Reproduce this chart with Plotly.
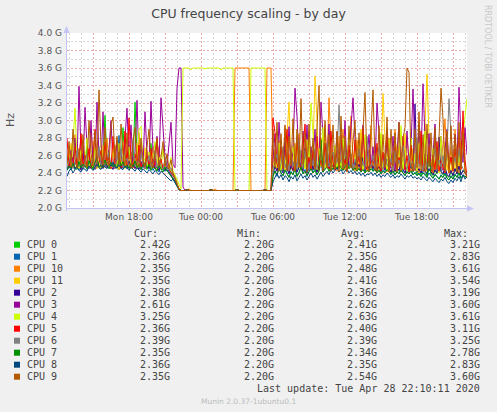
import pandas as pd
import plotly.graph_objs as go

# three time segments, 10 minute steps
LEFT_START = "2020-04-27 12:50"
FLAT_START = "2020-04-27 22:20"
RIGHT_START = "2020-04-28 06:00"

CPU_NAMES = ["CPU 0", "CPU 1", "CPU 10", "CPU 11", "CPU 2", "CPU 3",
             "CPU 4", "CPU 5", "CPU 6", "CPU 7", "CPU 8", "CPU 9"]
CPU_COLORS = ["#00CC00", "#0066B3", "#FF8000", "#FFCC00", "#330099", "#990099",
              "#CCFF00", "#FF0000", "#808080", "#008F00", "#00487D", "#B35A00"]

# legend statistics (GHz)
CUR = [2.42, 2.36, 2.35, 2.35, 2.38, 2.61, 3.25, 2.36, 2.39, 2.35, 2.36, 2.35]
MIN = [2.20, 2.20, 2.20, 2.20, 2.20, 2.20, 2.20, 2.20, 2.20, 2.20, 2.20, 2.20]
AVG = [2.41, 2.35, 2.48, 2.41, 2.36, 2.62, 2.63, 2.40, 2.39, 2.34, 2.35, 2.54]
MAX = [3.21, 2.83, 3.61, 3.54, 3.19, 3.60, 3.61, 3.11, 3.25, 2.78, 2.83, 3.60]

X_TICKS = ["2020-04-27 15:00", "2020-04-27 18:00", "2020-04-27 21:00", "2020-04-28 00:00",
           "2020-04-28 03:00", "2020-04-28 06:00", "2020-04-28 09:00", "2020-04-28 12:00",
           "2020-04-28 15:00", "2020-04-28 18:00", "2020-04-28 21:00"]
X_TICK_TEXT = ["", "Mon 18:00", "", "Tue 00:00", "", "Tue 06:00", "", "Tue 12:00", "", "Tue 18:00", ""]

# night segment (all idle at 2.2 GHz except the boosted cores)
flat_quiet = [2.20, 2.20, 2.20, 2.21, 2.20, 2.20, 2.20, 2.20, 2.20, 2.20,
              2.20, 2.20, 2.20, 2.20, 2.20, 2.21, 2.20, 2.20, 2.20, 2.20,
              2.20, 2.20, 2.20, 2.20, 2.20, 2.20, 2.20, 2.20, 2.21, 2.20,
              2.20, 2.20, 2.20, 2.20, 2.20, 2.20, 2.20, 2.20, 2.20, 2.20,
              2.20, 2.20, 2.21, 2.20, 2.20, 2.20]
flat_cpu3 = [3.60, 2.24, 2.20, 2.20, 2.20, 2.20, 2.20, 2.20, 2.20, 2.20,
             2.20, 2.20, 2.20, 2.20, 2.20, 2.20, 2.20, 2.20, 2.20, 2.20,
             2.20, 2.20, 2.20, 2.20, 2.20, 2.20, 2.20, 2.20, 2.20, 2.20,
             2.20, 2.20, 2.20, 2.20, 2.20, 2.20, 2.20, 2.20, 2.20, 2.20,
             2.20, 2.20, 2.20, 2.20, 2.20, 2.20]
flat_cpu4 = [2.22, 3.60, 3.60, 3.60, 3.60, 3.58, 3.60, 3.60, 3.60, 3.60,
             3.60, 3.60, 3.59, 3.60, 3.60, 3.60, 3.60, 3.60, 3.60, 3.60,
             3.58, 3.60, 3.60, 3.60, 3.60, 3.60, 3.60, 2.20, 2.20, 2.20,
             2.20, 2.20, 2.20, 2.20, 2.20, 3.60, 3.60, 3.60, 3.60, 3.60,
             3.60, 3.60, 3.60, 2.20, 2.20, 2.20]
flat_cpu10 = [2.20, 2.20, 2.20, 2.20, 2.22, 2.20, 2.20, 2.20, 2.20, 2.20,
              2.20, 2.20, 2.20, 2.20, 2.20, 2.20, 2.20, 2.22, 2.20, 2.20,
              2.20, 2.20, 2.20, 2.20, 2.20, 2.20, 2.20, 3.60, 3.60, 3.60,
              3.60, 3.60, 3.60, 3.60, 3.60, 2.20, 2.20, 2.20, 2.20, 2.20,
              2.20, 2.20, 2.20, 3.60, 3.60, 3.60]

# Monday afternoon / evening
cpu0_left = [2.45, 2.50, 2.46, 2.58, 2.44, 2.49, 2.47, 2.52, 2.45, 2.48,
             2.70, 2.47, 2.50, 2.44, 2.49, 2.46, 2.52, 2.45, 2.60, 3.06,
             2.55, 2.47, 2.45, 2.50, 2.46, 2.48, 2.44, 2.51, 2.92, 2.49,
             2.46, 2.52, 2.45, 2.48, 3.21, 2.62, 2.47, 2.45, 2.50, 2.46,
             2.44, 2.49, 2.74, 2.47, 2.45, 2.43, 2.48, 2.46, 2.44, 2.47,
             2.42, 2.45, 2.40, 2.37, 2.33, 2.27, 2.21]
cpu1_left = [2.43, 2.47, 2.44, 2.50, 2.45, 2.48, 2.43, 2.55, 2.46, 2.49,
             2.44, 2.52, 2.46, 2.49, 2.45, 2.50, 2.47, 2.45, 2.58, 2.48,
             2.50, 2.45, 2.53, 2.47, 2.49, 2.46, 2.83, 2.52, 2.45, 2.48,
             2.47, 2.51, 2.45, 2.48, 2.55, 2.46, 2.49, 2.44, 2.52, 2.46,
             2.48, 2.45, 2.50, 2.43, 2.47, 2.45, 2.41, 2.48, 2.44, 2.42,
             2.44, 2.39, 2.36, 2.34, 2.30, 2.25, 2.21]
cpu10_left = [2.48, 2.70, 2.46, 2.52, 2.84, 2.50, 2.47, 2.45, 2.76, 2.49,
              2.46, 2.52, 2.88, 2.50, 2.47, 2.45, 2.68, 2.48, 2.46, 2.51,
              2.80, 2.49, 2.46, 2.45, 2.72, 2.50, 2.44, 2.48, 2.47, 2.78,
              2.52, 2.46, 2.64, 2.48, 2.45, 2.50, 2.86, 2.47, 2.49, 2.45,
              2.66, 2.48, 2.46, 2.70, 2.50, 2.45, 2.62, 2.44, 2.48, 2.52,
              2.47, 2.50, 2.44, 2.41, 2.36, 2.29, 2.22]
cpu11_left = [2.47, 2.52, 2.74, 2.46, 2.49, 2.66, 2.45, 2.82, 2.48, 2.50,
              2.45, 2.68, 2.47, 2.77, 2.46, 2.50, 2.62, 2.45, 2.72, 2.49,
              2.55, 2.46, 2.48, 2.71, 2.47, 2.60, 2.45, 2.50, 2.75, 2.46,
              2.49, 2.64, 2.45, 2.52, 2.47, 2.74, 2.46, 2.50, 2.48, 2.69,
              2.46, 2.52, 2.44, 2.62, 2.47, 2.45, 2.70, 2.48, 2.46, 2.51,
              2.45, 2.50, 2.43, 2.40, 2.35, 2.28, 2.21]
cpu2_left = [2.44, 2.50, 2.46, 2.58, 2.45, 2.48, 2.54, 2.43, 2.62, 2.47,
             2.49, 2.45, 2.56, 2.47, 2.44, 2.52, 2.46, 2.60, 2.45, 2.50,
             2.46, 2.57, 2.48, 2.44, 2.51, 2.46, 2.55, 2.45, 2.50, 2.47,
             2.45, 2.54, 2.47, 2.58, 2.45, 2.49, 2.44, 2.53, 2.47, 2.46,
             2.51, 2.45, 2.48, 2.56, 2.45, 2.47, 2.43, 2.52, 2.46, 2.43,
             2.47, 2.42, 2.38, 2.35, 2.31, 2.26, 2.21]
cpu3_left = [2.58, 2.46, 2.66, 2.48, 2.80, 2.50, 3.39, 2.62, 2.47, 3.15,
             2.70, 2.48, 3.00, 2.52, 2.46, 3.21, 2.58, 2.47, 3.10, 2.55,
             2.47, 2.68, 3.00, 2.50, 2.45, 2.78, 2.49, 2.62, 2.46, 2.85,
             3.14, 2.56, 2.95, 2.48, 2.64, 3.23, 2.52, 2.72, 2.47, 3.10,
             2.60, 2.49, 3.22, 2.66, 2.47, 2.82, 2.50, 3.26, 2.90, 2.58,
             2.48, 2.74, 2.98, 2.50, 2.46, 3.37, 3.60]
cpu4_left = [2.47, 2.60, 2.48, 2.75, 3.14, 2.55, 2.46, 2.66, 2.45, 2.50,
             2.80, 2.48, 2.58, 2.46, 2.70, 2.50, 2.45, 2.64, 2.48, 2.78,
             2.49, 2.56, 2.45, 2.68, 2.52, 2.46, 2.74, 2.48, 2.60, 2.45,
             2.55, 2.70, 2.47, 2.50, 2.62, 2.46, 2.90, 2.93, 2.50, 2.57,
             2.46, 2.64, 2.48, 2.52, 2.76, 2.47, 2.58, 2.45, 2.68, 2.50,
             2.48, 2.45, 2.58, 2.42, 2.38, 2.32, 2.26]
cpu5_left = [2.80, 2.48, 2.62, 2.46, 2.70, 2.50, 2.55, 2.85, 2.47, 2.60,
             2.49, 2.68, 2.45, 2.56, 2.90, 2.48, 2.52, 2.66, 2.46, 2.76,
             2.50, 2.58, 2.45, 2.82, 2.48, 2.55, 2.64, 2.46, 2.52, 2.88,
             2.48, 3.03, 2.56, 2.46, 2.62, 2.49, 2.72, 2.47, 2.54, 2.45,
             2.60, 2.48, 2.68, 2.46, 2.52, 2.78, 2.47, 2.56, 2.45, 2.50,
             2.48, 2.44, 2.41, 2.38, 2.34, 2.27, 2.22]
cpu6_left = [2.46, 2.52, 2.60, 2.45, 2.50, 2.66, 2.47, 2.55, 2.44, 2.52,
             2.62, 2.46, 2.50, 2.58, 2.45, 2.52, 2.70, 2.47, 2.55, 2.46,
             2.51, 2.64, 2.47, 2.53, 2.45, 2.60, 2.49, 2.68, 2.46, 2.52,
             2.57, 2.45, 2.50, 2.78, 2.48, 2.54, 2.46, 2.62, 2.50, 2.45,
             2.52, 2.60, 2.46, 2.51, 2.66, 2.46, 2.55, 2.48, 2.44, 2.57,
             2.47, 2.43, 2.46, 2.39, 2.35, 2.28, 2.21]
cpu7_left = [2.43, 2.48, 2.45, 2.51, 2.46, 2.44, 2.53, 2.46, 2.50, 2.47,
             2.45, 2.54, 2.48, 2.46, 2.51, 2.58, 2.47, 2.49, 2.46, 2.55,
             2.48, 2.45, 2.52, 2.47, 2.50, 2.45, 2.56, 2.48, 2.53, 2.46,
             2.49, 2.45, 2.51, 2.47, 2.54, 2.46, 2.50, 2.44, 2.48, 2.52,
             2.45, 2.50, 2.43, 2.48, 2.46, 2.42, 2.49, 2.44, 2.41, 2.46,
             2.43, 2.39, 2.36, 2.34, 2.30, 2.25, 2.21]
cpu8_left = [2.36, 2.42, 2.45, 2.40, 2.44, 2.47, 2.43, 2.41, 2.46, 2.44,
             2.42, 2.48, 2.45, 2.43, 2.47, 2.50, 2.46, 2.44, 2.49, 2.47,
             2.45, 2.50, 2.48, 2.52, 2.47, 2.46, 2.49, 2.45, 2.44, 2.48,
             2.46, 2.43, 2.47, 2.45, 2.42, 2.46, 2.44, 2.41, 2.45, 2.43,
             2.40, 2.44, 2.42, 2.39, 2.43, 2.41, 2.38, 2.42, 2.40, 2.37,
             2.36, 2.34, 2.31, 2.33, 2.28, 2.25, 2.21]
cpu9_left = [2.50, 2.76, 2.47, 2.90, 2.55, 2.46, 2.68, 2.49, 2.84, 2.52,
             2.47, 3.00, 2.62, 2.48, 2.88, 2.54, 3.35, 2.70, 2.49, 2.92,
             2.58, 2.48, 2.95, 3.04, 2.56, 2.82, 2.50, 2.96, 2.62, 2.48,
             2.86, 2.52, 2.46, 2.76, 2.92, 2.50, 2.47, 2.80, 2.55, 2.48,
             2.70, 2.90, 2.50, 2.46, 2.64, 2.80, 2.48, 2.58, 2.76, 2.47,
             2.62, 2.45, 2.55, 2.40, 2.34, 2.28, 2.21]

# Tuesday daytime
cpu0_right = [2.42, 2.48, 2.44, 2.56, 2.45, 2.42, 2.50, 2.44, 2.40, 2.47,
              2.43, 2.58, 2.42, 2.46, 2.66, 2.44, 2.49, 2.41, 2.46, 2.62,
              2.44, 2.52, 2.42, 2.48, 2.58, 2.45, 2.50, 2.70, 2.46, 2.54,
              2.48, 2.58, 2.50, 2.64, 2.48, 2.46, 2.53, 2.66, 2.47, 2.55,
              2.46, 2.52, 2.44, 2.50, 2.43, 2.58, 2.42, 2.48, 2.45, 2.55,
              2.44, 2.50, 2.42, 2.47, 2.41, 2.46, 2.43, 2.56, 2.45, 2.40,
              2.47, 2.41, 2.45, 2.42, 2.54, 2.43, 2.40, 2.48, 2.42, 2.50,
              2.41, 2.46, 2.39, 2.44, 2.38, 2.50, 2.42, 2.37, 2.44, 2.40,
              2.37, 2.43, 2.39, 2.68, 2.41, 2.38, 2.46, 2.37, 2.35, 2.42,
              2.36, 2.45, 2.39, 2.60, 2.38, 2.43, 2.40, 2.42]
cpu1_right = [2.38, 2.43, 2.36, 2.48, 2.40, 2.37, 2.45, 2.39, 2.35, 2.42,
              2.38, 2.52, 2.37, 2.41, 2.47, 2.39, 2.44, 2.36, 2.42, 2.55,
              2.40, 2.45, 2.38, 2.43, 2.50, 2.41, 2.46, 2.60, 2.42, 2.48,
              2.44, 2.50, 2.46, 2.53, 2.47, 2.43, 2.49, 2.55, 2.45, 2.50,
              2.43, 2.48, 2.42, 2.46, 2.41, 2.52, 2.40, 2.45, 2.42, 2.49,
              2.42, 2.46, 2.40, 2.44, 2.39, 2.43, 2.41, 2.83, 2.42, 2.38,
              2.43, 2.38, 2.42, 2.39, 2.46, 2.40, 2.37, 2.43, 2.39, 2.44,
              2.38, 2.41, 2.37, 2.40, 2.36, 2.42, 2.39, 2.35, 2.40, 2.37,
              2.34, 2.39, 2.36, 2.33, 2.38, 2.35, 2.41, 2.34, 2.32, 2.37,
              2.33, 2.39, 2.35, 2.42, 2.34, 2.38, 2.36, 2.36]
cpu10_right = [2.44, 2.66, 2.42, 2.78, 2.45, 2.48, 2.92, 2.43, 2.62, 2.46,
               2.42, 2.74, 2.45, 2.85, 2.43, 2.50, 2.68, 2.42, 2.88, 2.47,
               2.44, 2.62, 2.46, 2.42, 2.80, 2.45, 2.95, 2.48, 3.26, 2.70,
               2.45, 2.58, 2.42, 2.82, 2.46, 2.90, 2.43, 2.64, 2.47, 3.05,
               2.52, 2.42, 2.78, 2.45, 2.86, 2.44, 2.66, 2.42, 2.50, 2.94,
               2.46, 2.72, 2.43, 2.55, 2.84, 2.44, 2.62, 2.41, 2.80, 2.48,
               2.42, 2.90, 2.46, 2.70, 2.41, 2.58, 2.44, 2.82, 2.50, 2.42,
               2.68, 2.43, 2.55, 2.40, 2.78, 2.46, 2.96, 2.42, 2.64, 2.47,
               2.41, 2.84, 2.43, 2.60, 2.45, 2.76, 3.02, 2.50, 2.40, 2.70,
               2.42, 2.90, 2.52, 2.40, 2.82, 2.98, 2.46, 2.35]
cpu11_right = [2.44, 2.55, 2.46, 2.72, 2.45, 2.60, 2.43, 2.78, 3.21, 2.50,
               2.62, 2.44, 2.68, 2.46, 2.52, 2.86, 2.45, 2.50, 2.72, 2.44,
               2.64, 3.51, 2.88, 2.47, 2.58, 2.44, 2.76, 2.50, 2.43, 2.66,
               2.52, 2.45, 2.80, 2.47, 2.60, 2.44, 2.70, 2.50, 2.45, 2.58,
               2.46, 2.74, 2.43, 2.55, 2.90, 2.45, 2.52, 2.42, 2.68, 2.47,
               2.58, 2.44, 2.66, 2.43, 2.52, 3.31, 2.78, 2.46, 2.43, 2.62,
               2.50, 2.42, 2.72, 2.46, 2.58, 2.44, 2.85, 2.50, 2.42, 2.66,
               2.46, 2.58, 2.43, 2.70, 2.50, 2.44, 2.94, 3.53, 2.80, 2.46,
               2.60, 2.44, 2.66, 2.41, 2.55, 2.46, 2.76, 2.43, 2.52, 2.40,
               2.62, 2.45, 2.72, 2.42, 2.50, 2.88, 2.44, 2.35]
cpu2_right = [2.40, 2.47, 2.42, 2.55, 2.44, 2.40, 2.74, 2.45, 2.39, 2.49,
              2.43, 2.58, 2.41, 2.46, 2.52, 2.42, 2.68, 2.40, 2.47, 2.60,
              2.44, 2.50, 2.41, 2.47, 2.56, 2.43, 2.49, 2.70, 2.45, 2.52,
              2.47, 2.54, 2.49, 2.60, 2.50, 2.46, 2.53, 2.62, 2.48, 2.55,
              2.46, 2.53, 2.45, 2.50, 2.44, 2.58, 2.43, 2.49, 2.45, 2.54,
              2.45, 2.51, 2.43, 2.48, 2.42, 2.47, 2.44, 2.56, 2.46, 2.41,
              2.47, 2.42, 2.46, 2.43, 2.52, 2.44, 2.40, 2.48, 2.43, 2.49,
              2.42, 3.19, 2.41, 2.45, 2.40, 2.47, 2.43, 2.39, 2.45, 2.41,
              2.38, 2.44, 2.40, 2.81, 2.42, 2.39, 2.47, 2.38, 2.36, 2.43,
              2.37, 2.45, 2.39, 2.48, 2.38, 2.43, 2.40, 2.38]
cpu3_right = [2.55, 2.85, 2.46, 2.98, 2.60, 2.44, 2.80, 2.50, 2.93, 2.47,
              2.66, 3.37, 3.05, 2.52, 2.45, 2.88, 2.48, 2.95, 2.44, 2.70,
              2.50, 2.90, 2.46, 2.58, 3.21, 2.82, 2.45, 2.56, 2.96, 2.44,
              2.62, 2.47, 2.87, 2.45, 2.78, 2.50, 3.00, 2.46, 2.58, 2.92,
              3.26, 2.80, 2.45, 2.66, 2.48, 2.95, 2.44, 2.56, 2.84, 2.47,
              2.70, 2.46, 3.20, 2.86, 2.48, 2.60, 2.44, 2.90, 2.52, 2.45,
              2.82, 2.44, 2.62, 2.98, 2.47, 2.56, 2.43, 2.88, 2.50, 2.68,
              3.36, 2.62, 2.45, 2.92, 2.52, 3.42, 2.78, 2.44, 2.85, 2.48,
              2.60, 2.96, 2.45, 2.55, 2.82, 2.43, 2.66, 2.90, 2.46, 2.58,
              2.44, 2.84, 2.50, 3.38, 2.80, 2.52, 2.92, 2.61]
cpu4_right = [2.44, 2.58, 2.46, 2.74, 2.43, 2.62, 2.47, 2.82, 2.44, 2.56,
              2.70, 2.45, 2.86, 2.48, 2.43, 2.64, 2.46, 2.78, 2.55, 3.20,
              2.84, 2.50, 2.44, 2.68, 2.47, 2.92, 2.45, 2.58, 2.76, 2.43,
              2.55, 2.72, 2.45, 2.62, 2.44, 2.80, 2.50, 2.45, 2.88, 2.52,
              2.45, 2.66, 2.43, 2.74, 2.50, 2.44, 2.84, 2.47, 2.62, 2.45,
              2.55, 2.43, 2.70, 2.47, 2.86, 2.44, 2.58, 2.42, 2.78, 2.50,
              2.44, 2.66, 2.47, 2.56, 2.94, 2.45, 2.68, 2.42, 2.52, 2.80,
              2.45, 2.62, 2.42, 2.74, 2.50, 2.44, 2.88, 2.47, 2.58, 2.43,
              2.68, 2.45, 2.54, 2.40, 2.82, 2.47, 2.42, 2.62, 2.45, 2.56,
              2.42, 2.72, 2.47, 2.64, 2.44, 2.84, 3.05, 3.25]
cpu5_right = [3.03, 2.86, 2.50, 2.44, 2.70, 2.46, 2.56, 2.90, 2.43, 2.62,
              2.47, 2.42, 2.76, 2.52, 2.44, 2.68, 2.96, 2.46, 2.58, 2.43,
              2.66, 2.47, 2.82, 2.44, 2.55, 2.42, 2.74, 2.50, 2.45, 2.88,
              2.52, 2.43, 2.66, 2.47, 2.84, 2.45, 2.56, 2.42, 2.72, 2.50,
              2.44, 2.78, 2.48, 2.60, 2.42, 2.92, 2.50, 2.44, 2.66, 2.46,
              2.56, 2.43, 2.74, 2.48, 2.42, 2.64, 2.50, 2.86, 2.44, 2.54,
              2.46, 2.70, 2.43, 2.58, 2.47, 2.82, 2.44, 2.60, 2.41, 2.72,
              2.48, 2.43, 2.64, 2.50, 2.88, 2.42, 2.56, 2.45, 2.70, 2.41,
              2.60, 2.44, 2.76, 2.42, 2.54, 2.47, 2.40, 2.74, 2.45, 2.58,
              2.42, 2.68, 2.46, 2.84, 2.44, 3.11, 2.55, 2.36]
cpu6_right = [2.45, 2.52, 2.62, 2.44, 2.50, 2.70, 2.46, 2.55, 2.43, 2.64,
              2.47, 2.56, 2.44, 2.78, 2.50, 2.45, 2.66, 2.52, 2.44, 2.60,
              2.48, 2.68, 2.45, 2.54, 2.62, 2.46, 2.52, 2.74, 2.47, 2.56,
              2.64, 2.48, 2.55, 3.18, 2.60, 2.46, 2.70, 2.50, 2.47, 2.62,
              2.45, 2.56, 2.50, 2.68, 2.46, 2.54, 2.44, 2.82, 2.52, 2.47,
              2.60, 2.45, 2.55, 2.70, 2.48, 2.44, 2.62, 2.50, 2.46, 2.57,
              2.43, 2.66, 2.48, 2.55, 2.45, 2.72, 2.50, 2.44, 2.60, 2.47,
              2.54, 2.44, 2.80, 2.47, 2.52, 2.43, 2.62, 2.46, 2.56, 2.44,
              2.50, 2.70, 2.44, 2.55, 2.47, 2.60, 2.42, 2.66, 3.25, 2.84,
              2.48, 2.58, 2.44, 2.68, 2.50, 2.45, 2.42, 2.39]
cpu7_right = [2.36, 2.42, 2.38, 2.45, 2.40, 2.37, 2.43, 2.39, 2.35, 2.41,
              2.38, 2.44, 2.36, 2.40, 2.47, 2.39, 2.42, 2.37, 2.41, 2.45,
              2.40, 2.43, 2.38, 2.42, 2.78, 2.41, 2.44, 2.47, 2.42, 2.46,
              2.44, 2.48, 2.45, 2.50, 2.46, 2.43, 2.47, 2.51, 2.45, 2.48,
              2.43, 2.46, 2.42, 2.45, 2.41, 2.44, 2.40, 2.43, 2.41, 2.45,
              2.42, 2.44, 2.40, 2.43, 2.39, 2.42, 2.40, 2.44, 2.41, 2.39,
              2.42, 2.38, 2.41, 2.39, 2.43, 2.40, 2.37, 2.41, 2.39, 2.42,
              2.38, 2.40, 2.37, 2.39, 2.36, 2.40, 2.38, 2.35, 2.62, 2.37,
              2.34, 2.38, 2.36, 2.33, 2.37, 2.35, 2.39, 2.34, 2.32, 2.36,
              2.33, 2.38, 2.35, 2.40, 2.34, 2.37, 2.36, 2.35]
cpu8_right = [2.30, 2.36, 2.40, 2.34, 2.38, 2.32, 2.37, 2.35, 2.30, 2.36,
              2.33, 2.38, 2.31, 2.35, 2.39, 2.34, 2.37, 2.32, 2.36, 2.40,
              2.35, 2.38, 2.33, 2.37, 2.41, 2.36, 2.39, 2.42, 2.38, 2.44,
              2.40, 2.43, 2.46, 2.41, 2.44, 2.39, 2.42, 2.45, 2.40, 2.43,
              2.39, 2.42, 2.38, 2.41, 2.37, 2.40, 2.36, 2.39, 2.38, 2.41,
              2.37, 2.40, 2.36, 2.39, 2.35, 2.38, 2.36, 2.40, 2.37, 2.35,
              2.38, 2.34, 2.37, 2.35, 2.39, 2.36, 2.33, 2.37, 2.35, 2.38,
              2.34, 2.36, 2.33, 2.35, 2.32, 2.36, 2.34, 2.31, 2.35, 2.33,
              2.30, 2.34, 2.32, 2.29, 2.33, 2.31, 2.35, 2.30, 2.28, 2.32,
              2.29, 2.34, 2.31, 2.36, 2.30, 2.38, 2.33, 2.36]
cpu9_right = [2.90, 2.46, 2.98, 2.42, 2.85, 2.45, 2.95, 2.43, 2.82, 2.48,
              3.02, 2.42, 2.90, 2.46, 3.25, 2.50, 2.86, 2.41, 2.96, 2.47,
              2.80, 2.44, 2.92, 3.40, 2.55, 2.43, 3.00, 2.46, 2.84, 2.42,
              2.95, 2.45, 2.88, 2.42, 3.05, 2.47, 2.82, 2.41, 2.94, 2.46,
              2.76, 3.00, 2.43, 2.86, 2.45, 2.92, 3.32, 2.50, 2.42, 2.88,
              3.35, 2.54, 2.42, 2.94, 2.45, 2.84, 2.46, 3.04, 2.41, 2.90,
              2.48, 2.86, 2.41, 2.98, 2.45, 2.80, 2.92, 3.60, 3.55, 2.52,
              2.42, 2.90, 2.46, 3.10, 2.43, 2.84, 2.41, 2.96, 2.47, 2.86,
              2.40, 2.92, 2.45, 2.80, 3.37, 3.02, 2.42, 2.88, 2.40, 2.94,
              2.44, 2.84, 2.41, 2.98, 2.46, 2.86, 2.40, 2.35]

segments = {
    "CPU 0": (cpu0_left, flat_quiet, cpu0_right),
    "CPU 1": (cpu1_left, flat_quiet, cpu1_right),
    "CPU 10": (cpu10_left, flat_cpu10, cpu10_right),
    "CPU 11": (cpu11_left, flat_quiet, cpu11_right),
    "CPU 2": (cpu2_left, flat_quiet, cpu2_right),
    "CPU 3": (cpu3_left, flat_cpu3, cpu3_right),
    "CPU 4": (cpu4_left, flat_cpu4, cpu4_right),
    "CPU 5": (cpu5_left, flat_quiet, cpu5_right),
    "CPU 6": (cpu6_left, flat_quiet, cpu6_right),
    "CPU 7": (cpu7_left, flat_quiet, cpu7_right),
    "CPU 8": (cpu8_left, flat_quiet, cpu8_right),
    "CPU 9": (cpu9_left, flat_quiet, cpu9_right),
}


def times(start, n):
    return list(pd.date_range(start, periods=n, freq="10min"))


# pixel -> paper helpers (plot area is 400x175 px at 67,33)
def px(x):
    return (x - 67) / 400.0


def py(y):
    return (208 - y) / 175.0


fig = go.Figure()
for name, color in zip(CPU_NAMES, CPU_COLORS):
    left, flat, right = segments[name]
    x = times(LEFT_START, len(left)) + times(FLAT_START, len(flat)) + times(RIGHT_START, len(right))
    fig.add_trace(go.Scatter(x=x, y=left + flat + right, mode="lines", name=name,
                             line=dict(color=color, width=1), showlegend=False))

TEXT = "#444444"
MONO = "DejaVu Sans Mono"
annotations = []


def label(text, x, y, xanchor="center", font=None, angle=0):
    annotations.append(dict(text=text, x=px(x), y=py(y), xref="paper", yref="paper", showarrow=False,
                            xanchor=xanchor, yanchor="middle", textangle=angle,
                            font=font or dict(family=MONO, size=10, color=TEXT)))


label("Hz", 10, 120, angle=-90, font=dict(family="DejaVu Sans", size=11, color="#555555"))
label("RRDTOOL / TOBI OETIKER", 488, 56, angle=90, font=dict(family="DejaVu Sans", size=8, color="#c8c8c8"))

for head, right_x in zip(["Cur:", "Min:", "Avg:", "Max:"], [160, 263, 367, 470]):
    label(head, right_x, 233, xanchor="right")

shapes = []
for k, name in enumerate(CPU_NAMES):
    row_y = 244.7 + 12 * k
    shapes.append(dict(type="rect", xref="paper", yref="paper", x0=px(14), x1=px(20),
                       y0=py(row_y + 3), y1=py(row_y - 3), fillcolor=CPU_COLORS[k], line=dict(width=0)))
    label(name, 25, row_y, xanchor="left")
    for vals, right_x in zip([CUR, MIN, AVG, MAX], [172, 276, 379, 482]):
        label("%.2fG" % vals[k], right_x, row_y, xanchor="right")

label("Last update: Tue Apr 28 22:10:11 2020", 482, 388.7, xanchor="right")
label("Munin 2.0.37-1ubuntu0.1", 248, 401.7, font=dict(family="DejaVu Sans", size=7.5, color="#bbbbbb"))

# axis lines with arrow heads
AXIS = "#c4c4f4"
shapes.append(dict(type="line", xref="paper", yref="paper", x0=px(66.5), x1=px(470), y0=py(208.5), y1=py(208.5),
                   line=dict(color=AXIS, width=1)))
shapes.append(dict(type="line", xref="paper", yref="paper", x0=px(66.5), x1=px(66.5), y0=py(211), y1=py(30),
                   line=dict(color=AXIS, width=1)))
shapes.append(dict(type="path", xref="paper", yref="paper", fillcolor=AXIS, line=dict(width=0),
                   path="M %f,%f L %f,%f L %f,%f Z" % (px(63.5), py(33), px(66.5), py(26), px(69.5), py(33))))
shapes.append(dict(type="path", xref="paper", yref="paper", fillcolor=AXIS, line=dict(width=0),
                   path="M %f,%f L %f,%f L %f,%f Z" % (px(467), py(205.5), px(474), py(208.5), px(467), py(211.5))))

fig.update_layout(
    width=497, height=412,
    margin=dict(l=67, r=30, t=33, b=204),
    paper_bgcolor="#f0f0f0", plot_bgcolor="#ffffff",
    title=dict(text="CPU frequency scaling - by day", x=0.5, xanchor="center", y=1 - 13.5 / 412,
               yanchor="middle", font=dict(family="DejaVu Sans", size=12.5, color="#444444")),
    annotations=annotations, shapes=shapes,
    xaxis=dict(type="date", range=["2020-04-27 12:50", "2020-04-28 22:10"],
               tickmode="array", tickvals=X_TICKS, ticktext=X_TICK_TEXT, ticks="", ticklabelstandoff=2,
               showgrid=True, gridcolor="#eca8a8", griddash="2px,2px", gridwidth=1,
               minor=dict(dtick=3600000, tick0="2020-04-27 00:00", showgrid=True,
                          gridcolor="#d8d8d8", griddash="2px,2px", gridwidth=1),
               zeroline=False, showline=False,
               tickfont=dict(family="DejaVu Sans", size=9, color="#555555")),
    yaxis=dict(range=[2.0, 4.0], tickmode="linear", tick0=2.0, dtick=0.2, tickformat=".1f", ticksuffix=" G",
               ticks="", ticklabelstandoff=4,
               showgrid=True, gridcolor="#eca8a8", griddash="2px,2px", gridwidth=1,
               minor=dict(dtick=0.1, showgrid=True, gridcolor="#d8d8d8", griddash="2px,2px", gridwidth=1),
               zeroline=False, showline=False,
               tickfont=dict(family="DejaVu Sans", size=9, color="#555555")),
)

# the page body has a default 8px margin; drop it so the figure fills the window
fig.write_html("out.html", config={"displayModeBar": False},
               post_script="document.body.style.margin='0';"
                           "document.body.style.background='#f0f0f0';")
